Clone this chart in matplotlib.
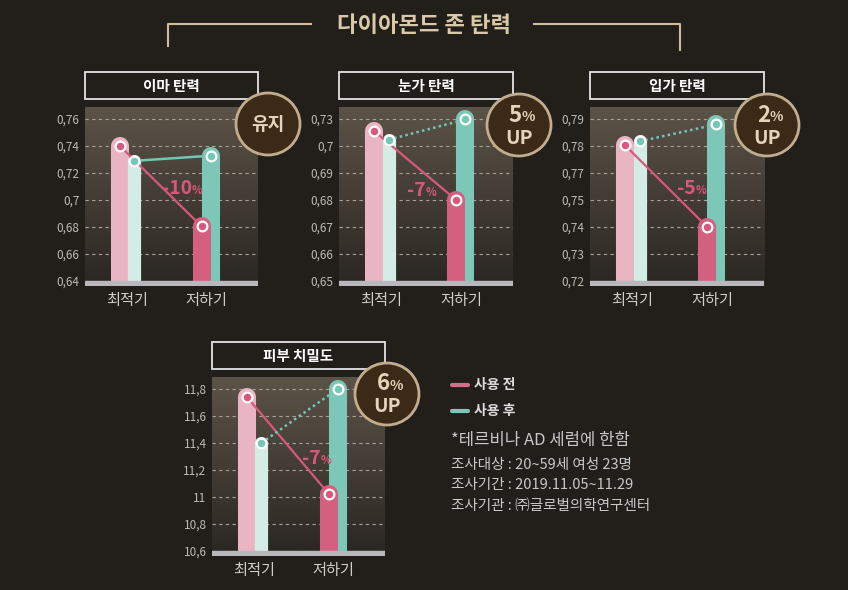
import numpy as np
import matplotlib
matplotlib.use('Agg')
import matplotlib.pyplot as plt
from matplotlib.patches import Rectangle, Ellipse
from matplotlib.ticker import FixedLocator, FixedFormatter

plt.rcParams['font.family'] = ['Noto Sans CJK KR', 'DejaVu Sans']

W, H = 848, 590
BG = '#221f1b'

# ---- data ----
cats = ['최적기', '저하기']
titles = ['이마 탄력', '눈가 탄력', '입가 탄력', '피부 치밀도']

tick_vals = [
    [0.64, 0.66, 0.68, 0.70, 0.72, 0.74, 0.76],
    [0.65, 0.66, 0.67, 0.68, 0.69, 0.70, 0.73],
    [0.72, 0.73, 0.74, 0.75, 0.77, 0.78, 0.79],
    [10.6, 10.8, 11.0, 11.2, 11.4, 11.6, 11.8],
]
tick_labels = [
    ['0,64', '0,66', '0,68', '0,7', '0,72', '0,74', '0,76'],
    ['0,65', '0,66', '0,67', '0,68', '0,69', '0,7', '0,73'],
    ['0,72', '0,73', '0,74', '0,75', '0,77', '0,78', '0,79'],
    ['10,6', '10,8', '11', '11,2', '11,4', '11,6', '11,8'],
]
before = [
    [0.740, 0.6805],
    [0.7165, 0.680],
    [0.7802, 0.740],
    [11.74, 11.025],
]
after = [
    [0.729, 0.7328],
    [0.707, 0.7295],
    [0.7817, 0.788],
    [11.40, 11.80],
]
drop_labels = ['-10', '-7', '-5', '-7']
badge_main = ['유지', '5', '2', '6']
badge_up = [False, True, True, True]
after_dotted = [False, True, True, True]

legend_labels = ['사용 전', '사용 후']
notes = ['조사대상 : 20~59세 여성 23명',
         '조사기간 : 2019.11.05~11.29',
         '조사기관 : ㈜글로벌의학연구센터']

# ---- layout (pixels) ----
boxes = [(85, 258, 107, 286), (339, 513, 107, 286),
         (590, 764, 107, 286), (212, 385, 377, 556)]
badge_xy = [(268, 124), (519, 125), (767, 125), (387, 394)]
drop_xy = [(186, 188), (420, 190), (690, 188), (315, 458)]

PINK_L = '#eab5c3'
TEAL_L = '#d3ece6'
PINK = '#d4607f'
TEAL = '#7cc7b7'
PINK_LINE = '#d8587c'
TEAL_LINE = '#74c6b5'

fig = plt.figure(figsize=(W / 100, H / 100), dpi=100, facecolor=BG)

ov = fig.add_axes([0, 0, 1, 1], zorder=10)
ov.set_xlim(0, W)
ov.set_ylim(H, 0)
ov.axis('off')
ov.patch.set_alpha(0)

grad = np.linspace(0, 1, 256).reshape(-1, 1)
cmap = matplotlib.colors.LinearSegmentedColormap.from_list('g', ['#5c5348', '#2a2622'])

for k in range(4):
    l, r, t, b = boxes[k]
    ax = fig.add_axes([l / W, 1 - b / H, (r - l) / W, (b - t) / H])
    ax.set_facecolor('none')
    tv = np.array(tick_vals[k])
    ext_v = np.concatenate([[tv[0] - (tv[1] - tv[0])], tv, [tv[-1] + (tv[-1] - tv[-2])]])
    ext_i = np.arange(-1, len(tv) + 1, dtype=float)

    def fwd(v, ev=ext_v, ei=ext_i):
        return np.interp(v, ev, ei)

    def inv(i, ev=ext_v, ei=ext_i):
        return np.interp(i, ei, ev)

    ax.set_yscale('function', functions=(fwd, inv))
    step = (b - 5 - (t + 12)) / 6.0
    ax.set_ylim(inv(-5 / step), inv(6 + 12 / step))
    ax.set_xlim(-0.525, 1.65)

    ax.imshow(grad, extent=[0, 1, 0, 1], transform=ax.transAxes, aspect='auto',
              cmap=cmap, zorder=0)

    ax.yaxis.set_major_locator(FixedLocator(tick_vals[k]))
    ax.yaxis.set_major_formatter(FixedFormatter(tick_labels[k]))
    ax.grid(axis='y', color='#a8a299', linestyle=(0, (3, 3)), linewidth=0.8, zorder=1)
    ax.set_xticks([0, 1])
    ax.set_xticklabels(cats)
    ax.tick_params(axis='y', length=0, pad=4, labelsize=8.5, labelcolor='#bdbab5')
    ax.tick_params(axis='x', length=0, pad=4, labelsize=11, labelcolor='#d0cdc8')
    for s in ax.spines.values():
        s.set_visible(False)

    base = tv[0]
    xb = [-0.085, 0.94]
    xa = [0.095, 1.055]
    # light bars on group 1, strong bars on group 2; shorter bar in front
    for g in range(2):
        cb = PINK_L if g == 0 else PINK
        ca = TEAL_L if g == 0 else TEAL
        wa = 9.5 if g == 0 else 13
        zb, za = (3, 3.5) if after[k][g] < before[k][g] else (3.5, 3)
        ax.plot([xb[g], xb[g]], [base, before[k][g]], color=cb, lw=13,
                solid_capstyle='round', zorder=zb)
        ax.plot([xa[g], xa[g]], [base, after[k][g]], color=ca, lw=wa,
                solid_capstyle='round', zorder=za)

    ax.axhspan(ax.get_ylim()[0], base, color='#b9b8bd', zorder=5)

    ax.plot(xb, before[k], color=PINK_LINE, lw=1.6, marker='o', ms=7,
            mfc=PINK_LINE, mec='white', mew=1.6, zorder=6)
    ax.plot(xa, after[k], color=TEAL_LINE, lw=1.8,
            linestyle=(0, (1, 1.3)) if after_dotted[k] else '-',
            marker='o', ms=7, mfc=TEAL_LINE, mec='white', mew=1.6, zorder=6)

    # title box
    ov.add_patch(Rectangle((l, t - 35), r - l, 27, fill=False, ec='#e4e4e4', lw=1.3))
    ov.text((l + r) / 2, t - 21.5, titles[k], color='white', fontsize=10.5,
            fontweight='bold', ha='center', va='center')

    # drop label
    dx, dy = drop_xy[k]
    ov.text(dx + 6, dy, drop_labels[k], color=PINK_LINE, fontsize=14, fontweight='bold',
            ha='right', va='center')
    ov.text(dx + 6, dy + 2, '%', color=PINK_LINE, fontsize=8, fontweight='bold',
            ha='left', va='center')

    # badge
    bx, by = badge_xy[k]
    ov.add_patch(Ellipse((bx, by), 64, 62, fc='#3b2a17', ec='#c2ad90', lw=2))
    if badge_up[k]:
        ov.text(bx + 3, by - 10, badge_main[k], color='#e3d4bc', fontsize=16,
                fontweight='bold', ha='right', va='center')
        ov.text(bx + 3, by - 8, '%', color='#e3d4bc', fontsize=10,
                fontweight='bold', ha='left', va='center')
        ov.text(bx, by + 13, 'UP', color='#e3d4bc', fontsize=14,
                fontweight='bold', ha='center', va='center')
    else:
        ov.text(bx, by, badge_main[k], color='#e3d4bc', fontsize=13,
                fontweight='bold', ha='center', va='center')

# main title with bracket
tc = '#cdbd9d'
ov.plot([168, 168, 311], [46, 24, 24], color=tc, lw=1.5)
ov.plot([534, 680, 680], [24, 24, 50], color=tc, lw=1.5)
ov.text(424, 25, '다이아몬드 존 탄력', color='#d9c9a9', fontsize=16,
        fontweight='bold', ha='center', va='center')

# legend
for yy, c, lab in [(385, '#d86a8a', legend_labels[0]), (411, TEAL, legend_labels[1])]:
    ov.plot([452, 468], [yy, yy], color=c, lw=3, solid_capstyle='round')
    ov.text(474, yy, lab, color='#dcdcdc', fontsize=10, fontweight='bold',
            ha='left', va='center')

ov.text(451, 440, '*테르비나 AD 세럼에 한함', color='#c8c8c8', fontsize=12,
        ha='left', va='center')
for i, s in enumerate(notes):
    ov.text(451, 465 + i * 20.5, s, color='#c8c8c8', fontsize=10.5,
            ha='left', va='center')

fig.savefig('out.png', dpi=100, facecolor=BG)
